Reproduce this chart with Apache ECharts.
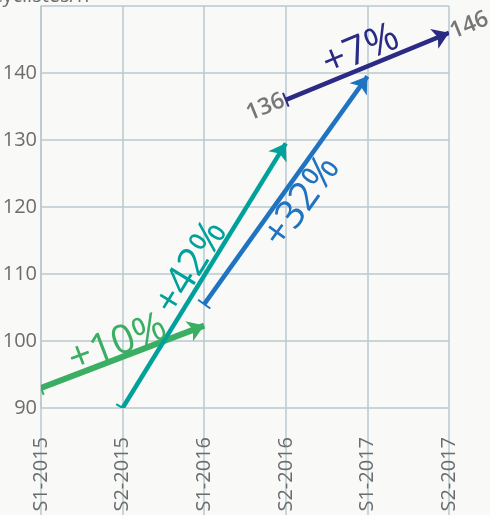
<!DOCTYPE html>
<html>
<head>
<meta charset="utf-8">
<script src="https://cdn.jsdelivr.net/npm/echarts@6/dist/echarts.min.js"></script>
<style>
  html, body { margin: 0; padding: 0; background: #f9f9f7; }
  #main { width: 490px; height: 515px; }
</style>
</head>
<body>
<div id="main"></div>
<script>
const categories = ["S1-2015", "S2-2015", "S1-2016", "S2-2016", "S1-2017", "S2-2017"];
const yTicks = [90, 100, 110, 120, 130, 140, 150];
// arrows: start category index / value -> end category index / value
const arrowFrom = [0, 1, 2, 3];
const arrowTo = [2, 3, 4, 5];
const fromValues = [93, 90, 105.5, 136];
const toValues = [102.3, 129.5, 139.5, 146];
const growthLabels = ["+10%", "+42%", "+32%", "+7%"];
const arrowColors = ["#3aae63", "#00a19a", "#1f73c1", "#2b2a84"];
const arrowWidths = [6, 4.5, 4.5, 4.5];
const labelSides = ["insideMiddleTop", "insideMiddleTop", "insideMiddleBottom", "insideMiddleTop"];
const labelGaps = [-6, -5, 0, -3];
// values written at the ends of the last arrow
const endLabels = [[3, 136], [5, 146]];

const gridColor = "#b9c9ce";
const textColor = "#6c6c6c";
const font = "Open Sans";

// flat bar used as the start cap (two dummy points keep it thin)
const capPath = "path://M0,-10L0,-10M0,10L0,10M-10,-1.3L10,-1.3L10,1.3L-10,1.3Z";

const lineData = arrowFrom.map((f, i) => ({
  coords: [[f, fromValues[i]], [arrowTo[i], toValues[i]]],
  lineStyle: { color: arrowColors[i], width: arrowWidths[i] },
  label: { position: labelSides[i], color: arrowColors[i], distance: labelGaps[i] },
  name: growthLabels[i],
}));

const option = {
  backgroundColor: "#f9f9f7",
  animation: false,
  grid: { left: 41, right: 41, top: 6, bottom: 107, outerBoundsMode: "none", containLabel: false },
  xAxis: {
    type: "category",
    data: categories,
    boundaryGap: false,
    axisLine: { show: false },
    axisTick: { show: true, length: 110, lineStyle: { color: gridColor, width: 1.5 } },
    axisLabel: { rotate: 90, margin: 29, fontSize: 20, color: textColor, fontFamily: font },
    splitLine: { show: true, lineStyle: { color: gridColor, width: 1.5 } },
  },
  yAxis: {
    type: "value",
    min: yTicks[0],
    max: yTicks[yTicks.length - 1],
    interval: 10,
    name: "cyclistes/h",
    nameGap: 0,
    nameTextStyle: { fontSize: 20, color: textColor, fontFamily: font, align: "center", verticalAlign: "bottom" },
    axisLine: { show: true, lineStyle: { color: gridColor, width: 1.5 } },
    axisTick: { show: false },
    axisLabel: {
      fontSize: 20, color: textColor, fontFamily: font, margin: 4,
      formatter: (v) => (v === 150 ? "" : v),
    },
    splitLine: { lineStyle: { color: gridColor, width: 1.5 } },
  },
  series: [
    {
      type: "lines",
      coordinateSystem: "cartesian2d",
      symbol: [capPath, "arrow"],
      symbolSize: [15, 16],
      lineStyle: { opacity: 1, curveness: 0 },
      label: {
        show: true,
        formatter: (p) => p.name,
        fontSize: 40,
        fontFamily: font,
      },
      data: lineData,
      z: 3,
    },
    {
      type: "scatter",
      symbolSize: 0,
      data: [
        { value: endLabels[0], label: { position: "left", distance: 2 } },
        { value: endLabels[1], label: { position: "right", distance: 2 } },
      ],
      label: {
        show: true,
        fontSize: 23,
        fontFamily: font,
        fontWeight: 600,
        color: "#555",
        rotate: 22,
        formatter: (p) => p.value[1],
      },
      z: 4,
    },
  ],
};

const myChart = echarts.init(document.getElementById("main"));
myChart.setOption(option);
</script>
</body>
</html>
